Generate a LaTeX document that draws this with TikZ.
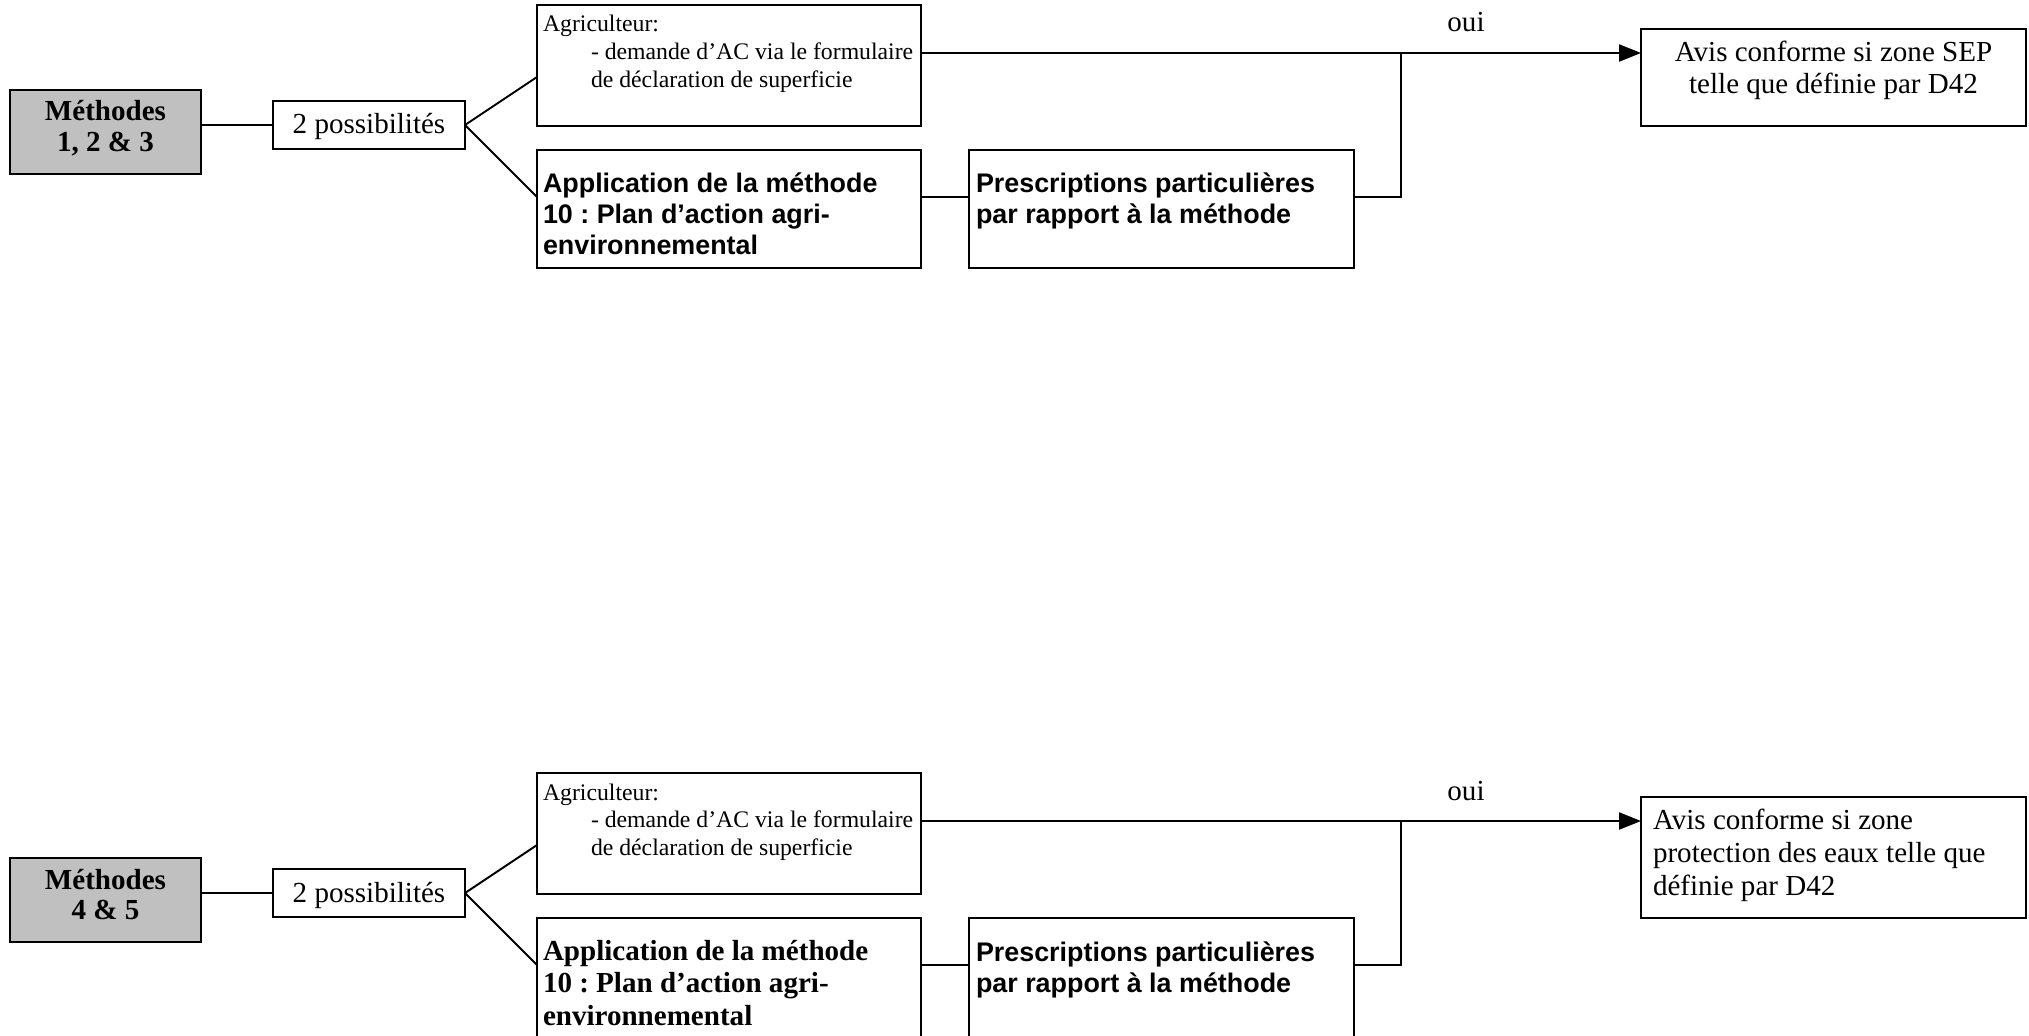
\documentclass[tikz,border=0pt]{standalone}
\usepackage{fontspec}
\setmainfont{Liberation Serif}
\newfontfamily\arialf{Liberation Sans}
\usetikzlibrary{arrows.meta}
\definecolor{boxgray}{RGB}{192,192,192}
\frenchspacing
\newlength\px
\setlength\px{0.413pt}
% left-aligned box content: height, width, left pad, first baseline, text
\newcommand\lbx[5]{\begin{minipage}[t][#1\px][t]{#2\px}\frenchspacing\raggedright\leftskip=#3\px\relax\rule{0pt}{#4\px}#5\par\end{minipage}}
% centred box content: height, width, first baseline, text
\newcommand\cbx[4]{\begin{minipage}[t][#1\px][t]{#2\px}\frenchspacing\centering\rule{0pt}{#3\px}#4\par\end{minipage}}
\tikzset{
  box/.style={draw, line width=0.8pt, inner sep=0pt, outer sep=0pt, anchor=north west},
  graybox/.style={box, fill=boxgray},
  ln/.style={line width=0.8pt},
  arr/.style={ln, -{Triangle[length=9pt,width=7pt]}},
  fmeth/.style={font=\bfseries\fontsize{12pt}{12.6pt}\selectfont},
  ftimes/.style={font=\fontsize{12pt}{13.2pt}\selectfont},
  ftimesw/.style={font=\fontsize{12pt}{13.8pt}\selectfont},
  fsmall/.style={font=\fontsize{9.8pt}{11.4pt}\selectfont},
  fsans/.style={font=\arialf\bfseries\fontsize{11.1pt}{12.8pt}\selectfont},
  ftimesb/.style={font=\bfseries\fontsize{12pt}{13.6pt}\selectfont},
}
\begin{document}
\begin{tikzpicture}[x=0.413pt,y=-0.413pt]
\fill[white] (0,0) rectangle (2029,1036);
\useasboundingbox (0,0) rectangle (2029,1036);

% ---------------- top section ----------------
\node[graybox, fmeth] (m1) at (10,90) {\cbx{84}{191}{31}{Méthodes\\1, 2 \& 3}};
\node[box, ftimes] (p1) at (273,101) {\cbx{48}{192}{33}{2 possibilités}};
\node[box, fsmall] (ag1) at (537,5) {\lbx{121}{384}{6}{27}{\mbox{Agriculteur:}\\\hspace*{48\px}\mbox{- demande d’AC via le formulaire}\\\hspace*{48\px}\mbox{de déclaration de superficie}}};
\node[box, fsans] (ap1) at (537,150) {\lbx{118}{384}{6}{43}{\mbox{Application de la méthode}\\\mbox{10 : Plan d’action agri-}\\\mbox{environnemental}}};
\node[box, fsans] (pr1) at (969,150) {\lbx{118}{385}{7}{43}{\mbox{Prescriptions particulières}\\\mbox{par rapport à la méthode}}};
\node[box, ftimes] (av1) at (1641,29) {\cbx{97}{385}{33}{Avis conforme si zone SEP\\telle que définie par D42}};
\node[ftimes, anchor=base, inner sep=0pt] (oui1) at (1466,32) {oui};

\coordinate (j1) at (1401,53);
\coordinate (d1) at (0,77);
\coordinate (c1) at (0,197);
\draw[ln] (m1.east |- p1.west) -- (p1.west);
\draw[ln] (p1.east) -- (ag1.west |- d1);
\draw[ln] (p1.east) -- (ap1.west |- c1);
\draw[arr] (ag1.east |- j1) -- (av1.west |- j1);
\draw[ln] (ap1.east |- c1) -- (pr1.west |- c1);
\draw[ln] (pr1.east |- c1) -| (j1);

% ---------------- bottom section ----------------
\node[graybox, fmeth] (m2) at (10,858) {\cbx{84}{191}{31}{Méthodes\\4 \& 5}};
\node[box, ftimes] (p2) at (273,869) {\cbx{48}{192}{33}{2 possibilités}};
\node[box, fsmall] (ag2) at (537,773) {\lbx{121}{384}{6}{27}{\mbox{Agriculteur:}\\\hspace*{48\px}\mbox{- demande d’AC via le formulaire}\\\hspace*{48\px}\mbox{de déclaration de superficie}}};
\node[box, ftimesb] (ap2) at (537,918) {\lbx{124}{384}{6}{42}{\mbox{Application de la méthode}\\\mbox{10 : Plan d’action agri-}\\\mbox{environnemental}}};
\node[box, fsans] (pr2) at (969,918) {\lbx{124}{385}{7}{43}{\mbox{Prescriptions particulières}\\\mbox{par rapport à la méthode}}};
\node[box, ftimesw] (av2) at (1641,797) {\lbx{121}{385}{12}{32}{\mbox{Avis conforme si zone}\\\mbox{protection des eaux telle que}\\\mbox{définie par D42}}};
\node[ftimes, anchor=base, inner sep=0pt] (oui2) at (1466,800) {oui};

\coordinate (j2) at (1401,821);
\coordinate (d2) at (0,845);
\coordinate (c2) at (0,965);
\draw[ln] (m2.east |- p2.west) -- (p2.west);
\draw[ln] (p2.east) -- (ag2.west |- d2);
\draw[ln] (p2.east) -- (ap2.west |- c2);
\draw[arr] (ag2.east |- j2) -- (av2.west |- j2);
\draw[ln] (ap2.east |- c2) -- (pr2.west |- c2);
\draw[ln] (pr2.east |- c2) -| (j2);
\end{tikzpicture}
\end{document}
